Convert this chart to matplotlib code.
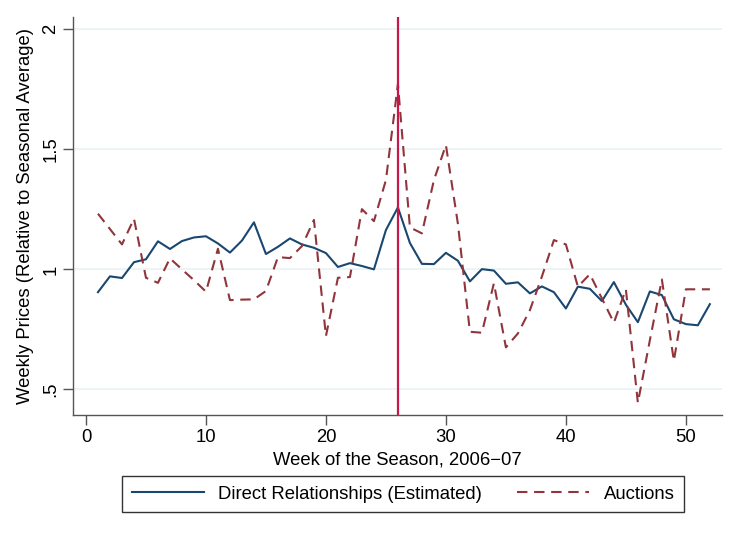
import numpy as np
import matplotlib
matplotlib.use("Agg")
import matplotlib.pyplot as plt

plt.rcParams['font.family'] = ['Liberation Sans', 'DejaVu Sans']

# weekly prices relative to seasonal average
weeks = np.arange(1, 53)
direct = [0.905, 0.971, 0.964, 1.030, 1.042, 1.117, 1.085, 1.118, 1.133, 1.138,
          1.108, 1.070, 1.120, 1.196, 1.064, 1.094, 1.129, 1.104, 1.090, 1.068,
          1.010, 1.026, 1.014, 1.000, 1.164, 1.258, 1.110, 1.023, 1.022, 1.069,
          1.036, 0.950, 1.001, 0.995, 0.940, 0.946, 0.900, 0.929, 0.905, 0.837,
          0.928, 0.919, 0.868, 0.947, 0.853, 0.780, 0.908, 0.893, 0.792, 0.772,
          0.767, 0.855]
auctions = [1.232, 1.168, 1.104, 1.211, 0.965, 0.944, 1.046, 1.000, 0.955, 0.907,
            1.086, 0.872, 0.874, 0.875, 0.910, 1.051, 1.047, 1.097, 1.206, 0.722,
            0.965, 0.968, 1.251, 1.201, 1.372, 1.772, 1.175, 1.150, 1.372, 1.518,
            1.190, 0.740, 0.736, 0.942, 0.675, 0.733, 0.830, 0.970, 1.122, 1.104,
            0.928, 0.980, 0.879, 0.778, 0.917, 0.444, 0.705, 0.958, 0.619, 0.917,
            0.917, 0.917]
event_week = 26
yticks = [0.5, 1, 1.5, 2]
ytick_labels = ['.5', '1', '1.5', '2']
xticks = [0, 10, 20, 30, 40, 50]

fs = 13.3

fig = plt.figure(figsize=(7.4, 5.36), dpi=100)
ax = fig.add_axes([0.099, 0.2252, 0.876, 0.7428])

ax.plot(weeks, direct, color='#1a476f', lw=1.5, label='Direct Relationships (Estimated)')
ax.plot(weeks, auctions, color='#90353b', lw=1.5, dashes=(5, 3.2), label='Auctions')
ax.axvline(event_week, color='#c8174a', lw=1.6)

ax.set_xlim(-1.06, 52.97)
ax.set_ylim(0.392, 2.051)
ax.set_xticks(xticks)
ax.set_yticks(yticks)
ax.set_yticklabels(ytick_labels, rotation=90, va='center')
ax.grid(axis='y', color='#eaf2f3', lw=1.2)
ax.set_axisbelow(True)

for s in ['top', 'right']:
    ax.spines[s].set_visible(False)
for s in ['left', 'bottom']:
    ax.spines[s].set_color('#555555')
    ax.spines[s].set_linewidth(1.0)
ax.tick_params(length=7, width=1.0, color='#555555', labelsize=fs, pad=3)

ax.set_xlabel('Week of the Season, 2006\u221207', fontsize=fs, labelpad=4)
ax.set_ylabel('Weekly Prices (Relative to Seasonal Average)', fontsize=fs, labelpad=6)

leg = fig.legend(loc='center', bbox_to_anchor=(0.545, 0.078), ncol=2, fontsize=fs,
                 frameon=True, fancybox=False, edgecolor='black', handlelength=3.9,
                 columnspacing=1.9, borderpad=0.5)
leg.get_frame().set_linewidth(1.0)

fig.savefig('out.png', dpi=100)
